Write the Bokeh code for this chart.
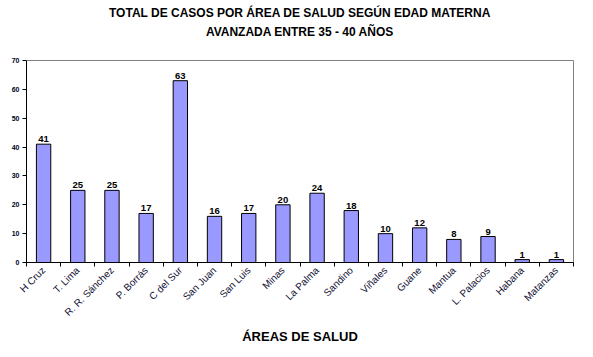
import math
from bokeh.plotting import figure
from bokeh.models import (Range1d, LinearAxis, FixedTicker, Title, ColumnDataSource)
from bokeh.core.properties import value
from bokeh.embed import file_html
from bokeh.resources import INLINE

areas = ["H Cruz", "T. Lima", "R. R. Sánchez", "P. Borrás", "C del Sur", "San Juan",
         "San Luis", "Minas", "La Palma", "Sandino", "Viñales", "Guane", "Mantua",
         "L. Palacios", "Habana", "Matanzas"]
casos = [41, 25, 25, 17, 63, 16, 17, 20, 24, 18, 10, 12, 8, 9, 1, 1]
y_ticks = [0, 10, 20, 30, 40, 50, 60, 70]
title_1 = "TOTAL DE CASOS POR ÁREA DE SALUD SEGÚN EDAD MATERNA"
title_2 = "AVANZADA ENTRE 35 - 40 AÑOS"
x_title = "ÁREAS DE SALUD"

FONT = "Liberation Sans"
n = len(areas)
centers = [i + 0.5 for i in range(n)]

src = ColumnDataSource(dict(x=centers, y=casos, t=[str(v) for v in casos]))

p = figure(width=593, height=357, x_range=Range1d(0, n),
           y_range=Range1d(0, 70), x_axis_type=None, y_axis_type=None,
           output_backend="svg", toolbar_location=None,
           min_border_left=26, min_border_right=20, min_border_top=0, min_border_bottom=95)
p.grid.visible = False
p.outline_line_color = "#808080"
p.background_fill_color = "white"
p.border_fill_color = "white"

# invisible spacer axis between frame and titles
sax = LinearAxis(ticker=FixedTicker(ticks=[0]))
sax.major_label_text_font_size = "1px"
sax.major_label_text_color = None
sax.major_label_standoff = 0
sax.major_tick_in = 0
sax.major_tick_out = 22
sax.major_tick_line_color = "white"
sax.minor_tick_line_color = None
sax.axis_line_color = None
p.add_layout(sax, "above")

# titles (first added is closest to frame)
t2 = Title(text=title_2, align="center", text_font=FONT, text_font_size="12px",
           text_font_style="bold", text_color="black", standoff=0, offset=0)
t1 = Title(text=title_1, align="center", text_font=FONT, text_font_size="12px",
           text_font_style="bold", text_color="black", standoff=6, offset=0)
p.add_layout(t2, "above")
p.add_layout(t1, "above")

# y axis
yax = LinearAxis(ticker=FixedTicker(ticks=y_ticks))
yax.major_label_text_font = FONT
yax.major_label_text_font_size = "7px"
yax.major_label_text_font_style = "bold"
yax.major_label_text_color = "#000022"
yax.major_tick_in = 0
yax.major_tick_out = 4
yax.minor_tick_line_color = None
yax.axis_line_color = "black"
yax.major_tick_line_color = "black"
yax.major_label_standoff = 3
p.add_layout(yax, "left")

# boundary ticks axis (no labels)
tax = LinearAxis(ticker=FixedTicker(ticks=list(range(n + 1))))
tax.major_label_text_font_size = "1px"
tax.major_label_text_color = None
tax.major_label_standoff = 0
tax.major_tick_in = 0
tax.major_tick_out = 4
tax.minor_tick_line_color = None
tax.axis_line_color = "black"
tax.major_tick_line_color = "black"
p.add_layout(tax, "below")

# category labels
cax = LinearAxis(ticker=FixedTicker(ticks=centers))
cax.major_label_overrides = {c: a for c, a in zip(centers, areas)}
cax.axis_line_color = None
cax.major_tick_line_color = None
cax.minor_tick_line_color = None
cax.major_label_orientation = math.pi / 4
cax.major_label_text_font = FONT
cax.major_label_text_font_size = "10px"
cax.major_label_text_color = "#111133"
cax.major_label_standoff = -4
cax.axis_label = x_title
cax.axis_label_text_font = FONT
cax.axis_label_text_font_size = "13px"
cax.axis_label_text_font_style = "bold"
cax.axis_label_text_color = "black"
cax.axis_label_standoff = 4
p.add_layout(cax, "below")

p.vbar(x="x", top="y", width=0.42, source=src, fill_color="#9999FF",
       line_color="black", line_width=1)
p.text(x="x", y="y", text="t", source=src, text_align="center", text_baseline="bottom",
       y_offset=-2, text_font=value(FONT), text_font_size="9.5px", text_font_style="bold",
       text_color="black")

open("out.html", "w").write(file_html(p, INLINE))
